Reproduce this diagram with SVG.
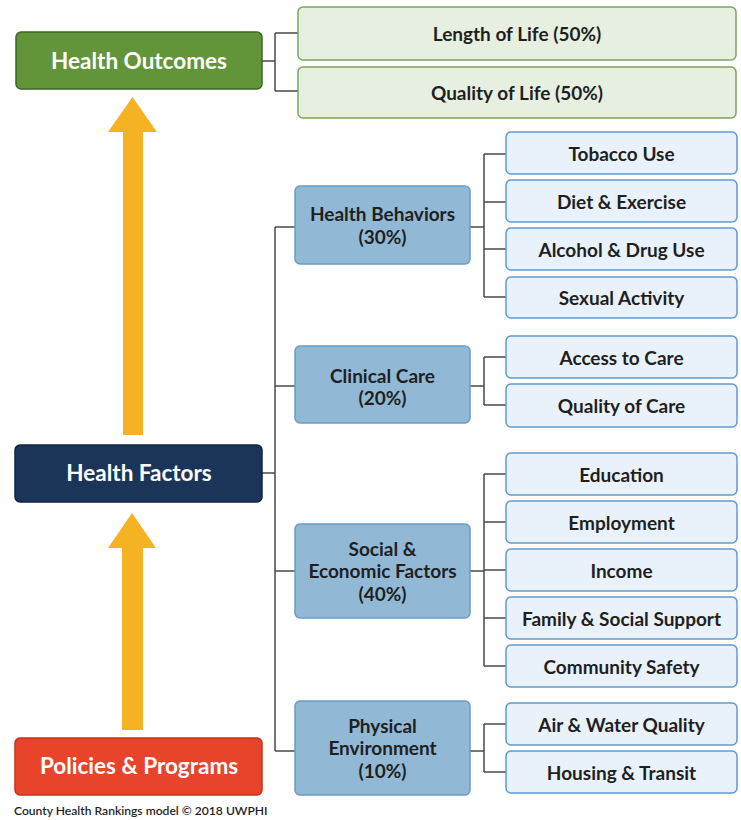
<svg xmlns="http://www.w3.org/2000/svg" width="741" height="820" viewBox="0 0 741 820">
  <style>
    text { font-family: Lato, "Open Sans", "Liberation Sans", sans-serif; font-weight: 700; text-anchor: middle; }
    .lbl { font-size: 19px; fill: #1f1f1f; }
    .big { font-size: 22.5px; fill: #ffffff; }
    .cap { font-size: 12.1px; fill: #1f1f1f; text-anchor: start; font-weight: 600; }
    .outc { fill: #e7f0e0; stroke: #7ea55c; stroke-width: 1.5; }
    .mid { fill: #91b9d6; stroke: #6b9cc3; stroke-width: 1.5; }
    .leaf { fill: #e9f2fb; stroke: #5f9ad0; stroke-width: 1.5; }
    .conn { fill: none; stroke: #4a4a4a; stroke-width: 1.5; }
    .arrow { fill: #f5b324; }
  </style>
  <rect width="741" height="820" fill="#ffffff"/>

  <g id="arrows">
    <polygon class="arrow" points="123,435 143,435 143,132 157,132 132.5,97 108,132 123,132"/>
    <polygon class="arrow" points="122,730 143,730 143,548 156,548 132,513 108,548 122,548"/>
  </g>

  <g id="connectors">
    <path class="conn" d="M262,61 H275 M275,33 V91 M275,33 H298 M275,91 H298"/>
    <path class="conn" d="M262,473 H275 M275,227 V751 M275,227 H295 M275,386 H295 M275,571 H295 M275,751 H295"/>
    <path class="conn" d="M470,227 H484 M484,154 V297 M484,154 H506 M484,202 H506 M484,249 H506 M484,297 H506"/>
    <path class="conn" d="M470,386 H484 M484,357 V405 M484,357 H506 M484,405 H506"/>
    <path class="conn" d="M470,571 H484 M484,474 V666 M484,474 H506 M484,522 H506 M484,570 H506 M484,618 H506 M484,666 H506"/>
    <path class="conn" d="M470,751 H484 M484,724 V772 M484,724 H506 M484,772 H506"/>
  </g>

  <g id="health-outcomes">
    <rect x="16" y="32" width="246" height="57" rx="5" fill="#62943a" stroke="#3d6524" stroke-width="1.5"/>
    <text class="big" x="139" y="69">Health Outcomes</text>
  </g>
  <g id="length-of-life">
    <rect class="outc" x="298" y="7" width="438" height="53" rx="5"/>
    <text class="lbl" x="517" y="41">Length of Life (50%)</text>
  </g>
  <g id="quality-of-life">
    <rect class="outc" x="298" y="67" width="438" height="51" rx="5"/>
    <text class="lbl" x="517" y="100">Quality of Life (50%)</text>
  </g>

  <g id="health-factors">
    <rect x="15" y="445" width="247" height="57" rx="5" fill="#1b3558" stroke="#10243d" stroke-width="1.5"/>
    <text class="big" x="139" y="481">Health Factors</text>
  </g>

  <g id="policies-programs">
    <rect x="15" y="738" width="247" height="57" rx="5" fill="#e8432b" stroke="#c9301c" stroke-width="1.5"/>
    <text class="big" x="139" y="774">Policies &amp; Programs</text>
  </g>

  <g id="health-behaviors">
    <rect class="mid" x="295" y="186" width="175" height="78" rx="5"/>
    <text class="lbl" x="382.5" y="221">Health Behaviors</text>
    <text class="lbl" x="382.5" y="244">(30%)</text>
  </g>
  <g id="clinical-care">
    <rect class="mid" x="295" y="346" width="175" height="77" rx="5"/>
    <text class="lbl" x="382.5" y="383">Clinical Care</text>
    <text class="lbl" x="382.5" y="405">(20%)</text>
  </g>
  <g id="social-economic">
    <rect class="mid" x="295" y="524" width="175" height="94" rx="5"/>
    <text class="lbl" x="382.5" y="556">Social &amp;</text>
    <text class="lbl" x="382.5" y="578">Economic Factors</text>
    <text class="lbl" x="382.5" y="601">(40%)</text>
  </g>
  <g id="physical-environment">
    <rect class="mid" x="295" y="701" width="175" height="94" rx="5"/>
    <text class="lbl" x="382.5" y="733">Physical</text>
    <text class="lbl" x="382.5" y="755">Environment</text>
    <text class="lbl" x="382.5" y="778">(10%)</text>
  </g>

  <g id="tobacco-use"><rect class="leaf" x="506" y="132" width="231" height="42" rx="5"/><text class="lbl" x="621.5" y="160.5">Tobacco Use</text></g>
  <g id="diet-exercise"><rect class="leaf" x="506" y="180" width="231" height="42" rx="5"/><text class="lbl" x="621.5" y="208.5">Diet &amp; Exercise</text></g>
  <g id="alcohol-drug"><rect class="leaf" x="506" y="228" width="231" height="42" rx="5"/><text class="lbl" x="621.5" y="256.5">Alcohol &amp; Drug Use</text></g>
  <g id="sexual-activity"><rect class="leaf" x="506" y="277" width="231" height="41" rx="5"/><text class="lbl" x="621.5" y="305">Sexual Activity</text></g>
  <g id="access-care"><rect class="leaf" x="506" y="336" width="231" height="42" rx="5"/><text class="lbl" x="621.5" y="364.5">Access to Care</text></g>
  <g id="quality-care"><rect class="leaf" x="506" y="384" width="231" height="43" rx="5"/><text class="lbl" x="621.5" y="413">Quality of Care</text></g>
  <g id="education"><rect class="leaf" x="506" y="453" width="231" height="42" rx="5"/><text class="lbl" x="621.5" y="481.5">Education</text></g>
  <g id="employment"><rect class="leaf" x="506" y="501" width="231" height="42" rx="5"/><text class="lbl" x="621.5" y="529.5">Employment</text></g>
  <g id="income"><rect class="leaf" x="506" y="549" width="231" height="42" rx="5"/><text class="lbl" x="621.5" y="577.5">Income</text></g>
  <g id="family-social"><rect class="leaf" x="506" y="597" width="231" height="42" rx="5"/><text class="lbl" x="621.5" y="625.5">Family &amp; Social Support</text></g>
  <g id="community-safety"><rect class="leaf" x="506" y="645" width="231" height="42" rx="5"/><text class="lbl" x="621.5" y="673.5">Community Safety</text></g>
  <g id="air-water"><rect class="leaf" x="506" y="703" width="231" height="42" rx="5"/><text class="lbl" x="621.5" y="731.5">Air &amp; Water Quality</text></g>
  <g id="housing-transit"><rect class="leaf" x="506" y="751" width="231" height="42" rx="5"/><text class="lbl" x="621.5" y="779.5">Housing &amp; Transit</text></g>

  <text class="cap" x="14" y="815">County Health Rankings model © 2018 UWPHI</text>
</svg>
